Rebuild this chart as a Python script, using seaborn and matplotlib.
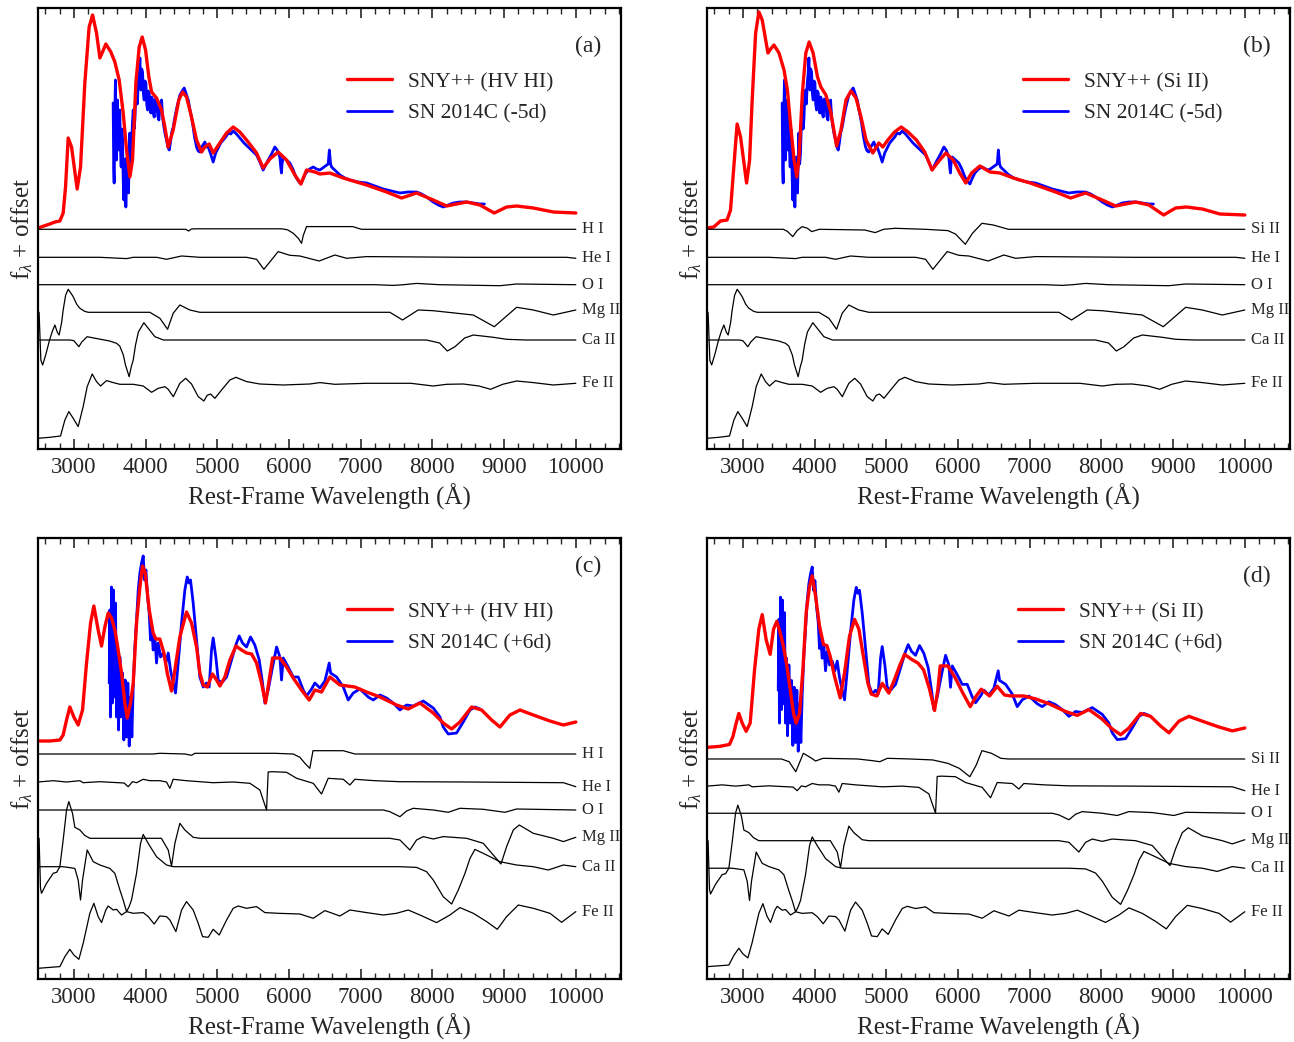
import numpy as np
import matplotlib
matplotlib.use("Agg")
import matplotlib.pyplot as plt
from matplotlib.ticker import MultipleLocator
import seaborn as sns

# ---------------------------------------------------------------------------
# Spectra: (rest wavelength [A], f_lambda + offset [arbitrary units])
# ---------------------------------------------------------------------------
obs_early = np.array([
    (3548, 3.46), (3556, 2.80), (3562, 2.66), (3570, 3.30), (3580, 3.69), (3588, 3.05),
    (3595, 2.89), (3602, 3.40), (3609, 3.49), (3616, 3.10), (3623, 2.99), (3632, 3.30),
    (3641, 3.39), (3650, 3.00), (3660, 2.82), (3670, 3.20), (3679, 3.09), (3688, 2.70),
    (3697, 2.49), (3704, 2.80), (3711, 2.62), (3718, 2.90), (3725, 2.42), (3734, 2.75),
    (3744, 2.92), (3753, 2.60), (3762, 2.56), (3772, 2.90), (3781, 3.16), (3792, 2.85),
    (3804, 2.96), (3816, 3.25), (3828, 3.39), (3840, 3.20), (3851, 3.29), (3862, 3.50),
    (3874, 3.59), (3886, 3.45), (3898, 3.66), (3910, 3.75), (3921, 3.91), (3928, 3.70),
    (3935, 3.59), (3946, 3.80), (3958, 3.77), (3970, 3.55), (3981, 3.49), (3993, 3.68),
    (4005, 3.66), (4016, 3.45), (4028, 3.39), (4040, 3.58), (4051, 3.56), (4062, 3.40),
    (4074, 3.36), (4086, 3.52), (4098, 3.49), (4110, 3.35), (4121, 3.32), (4137, 3.50),
    (4153, 3.49), (4170, 3.33), (4186, 3.29), (4204, 3.45), (4223, 3.49), (4240, 3.30),
    (4256, 3.22), (4275, 3.14), (4293, 3.09), (4312, 3.02), (4330, 2.99), (4346, 3.06),
    (4363, 3.16), (4386, 3.22), (4409, 3.32), (4444, 3.44), (4479, 3.54), (4510, 3.58),
    (4539, 3.61), (4567, 3.55), (4595, 3.49), (4625, 3.37), (4655, 3.26), (4683, 3.12),
    (4711, 3.02), (4734, 2.98), (4757, 2.97), (4792, 3.03), (4827, 3.07), (4850, 3.02),
    (4874, 3.02), (4908, 2.95), (4943, 2.87), (4978, 2.96), (5013, 3.01), (5048, 3.06),
    (5083, 3.09), (5118, 3.12), (5153, 3.16), (5188, 3.15), (5222, 3.18), (5268, 3.15),
    (5315, 3.11), (5373, 3.06), (5431, 3.02), (5490, 2.98), (5548, 2.94), (5594, 2.87),
    (5640, 2.79), (5675, 2.84), (5710, 2.89), (5757, 2.95), (5803, 3.02), (5835, 2.99),
    (5872, 2.92), (5888, 2.80), (5895, 2.76), (5903, 2.85), (5919, 2.92), (5965, 2.89),
    (6012, 2.86), (6054, 2.80), (6096, 2.72), (6131, 2.68), (6166, 2.65), (6201, 2.71),
    (6236, 2.76), (6287, 2.80), (6338, 2.82), (6385, 2.80), (6431, 2.79), (6490, 2.82),
    (6547, 2.85), (6563, 2.99), (6580, 2.85), (6594, 2.82), (6652, 2.78), (6710, 2.74),
    (6780, 2.71), (6849, 2.69), (6965, 2.67), (7082, 2.66), (7200, 2.63), (7315, 2.60),
    (7430, 2.58), (7547, 2.56), (7660, 2.57), (7780, 2.57), (7850, 2.55), (7919, 2.52),
    (8012, 2.47), (8082, 2.44), (8152, 2.42), (8221, 2.44), (8291, 2.46), (8384, 2.47),
    (8477, 2.47), (8570, 2.46), (8663, 2.45), (8725, 2.45),
])

obs_late = np.array([
    (3493, 2.96), (3502, 3.69), (3511, 2.62), (3525, 3.92), (3539, 2.76), (3553, 3.89),
    (3567, 2.82), (3581, 3.76), (3595, 2.62), (3609, 3.29), (3623, 2.49), (3642, 3.22),
    (3660, 2.62), (3679, 3.06), (3697, 2.39), (3716, 2.99), (3735, 2.42), (3753, 2.96),
    (3772, 2.33), (3790, 2.82), (3809, 2.42), (3828, 2.92), (3851, 3.32), (3874, 3.59),
    (3898, 3.89), (3921, 4.06), (3944, 4.16), (3967, 4.23), (3986, 3.99), (4005, 4.09),
    (4028, 3.82), (4051, 3.66), (4069, 3.39), (4088, 3.49), (4106, 3.29), (4130, 3.42),
    (4153, 3.16), (4176, 3.36), (4209, 3.22), (4246, 3.26), (4283, 3.16), (4316, 3.26),
    (4348, 3.09), (4385, 2.96), (4418, 2.86), (4455, 3.16), (4502, 3.56), (4548, 3.89),
    (4581, 4.02), (4604, 3.96), (4627, 3.99), (4664, 3.76), (4711, 3.39), (4757, 3.02),
    (4804, 2.92), (4850, 2.96), (4887, 2.92), (4920, 3.29), (4943, 3.41), (4980, 3.22),
    (5013, 2.99), (5060, 2.96), (5130, 3.02), (5199, 3.19), (5269, 3.36), (5306, 3.43),
    (5352, 3.36), (5408, 3.32), (5464, 3.42), (5524, 3.34), (5585, 3.19), (5631, 2.96),
    (5664, 2.76), (5710, 2.89), (5771, 3.12), (5827, 3.32), (5873, 3.22), (5896, 2.99),
    (5920, 3.21), (5989, 3.12), (6059, 3.02), (6129, 3.02), (6199, 2.89), (6245, 2.83),
    (6315, 2.90), (6361, 2.96), (6431, 2.91), (6501, 2.98), (6561, 3.16), (6580, 3.06),
    (6664, 3.02), (6757, 2.92), (6826, 2.79), (6896, 2.86), (6989, 2.90), (7105, 2.82),
    (7175, 2.79), (7268, 2.84), (7361, 2.81), (7454, 2.76), (7547, 2.69), (7640, 2.74),
    (7733, 2.73), (7872, 2.78), (8012, 2.71), (8105, 2.62), (8151, 2.52), (8221, 2.45),
    (8337, 2.46), (8430, 2.57), (8524, 2.69), (8593, 2.72), (8663, 2.70),
])

model_a = np.array([
    (2500, 2.21), (2665, 2.25), (2735, 2.27), (2805, 2.28), (2851, 2.36), (2884, 2.62),
    (2921, 3.11), (2968, 3.02), (3046, 2.60), (3093, 2.82), (3153, 3.66), (3213, 4.22),
    (3261, 4.34), (3316, 4.16), (3363, 3.91), (3400, 3.97), (3446, 4.05), (3516, 3.97),
    (3572, 3.87), (3632, 3.69), (3688, 3.36), (3735, 2.99), (3781, 2.72), (3818, 2.89),
    (3865, 3.66), (3911, 4.02), (3953, 4.12), (4000, 3.99), (4046, 3.72), (4084, 3.57),
    (4153, 3.51), (4223, 3.39), (4269, 3.22), (4315, 3.02), (4385, 3.19), (4464, 3.49),
    (4516, 3.57), (4571, 3.52), (4641, 3.32), (4711, 3.09), (4781, 2.97), (4827, 3.02),
    (4887, 3.05), (4943, 2.96), (5036, 3.06), (5130, 3.16), (5222, 3.22), (5315, 3.17),
    (5431, 3.07), (5548, 2.96), (5640, 2.81), (5734, 2.90), (5849, 2.97), (5966, 2.89),
    (6082, 2.74), (6166, 2.65), (6245, 2.79), (6361, 2.77), (6431, 2.75), (6570, 2.76),
    (6756, 2.71), (7082, 2.64), (7361, 2.57), (7570, 2.51), (7780, 2.56), (8012, 2.49),
    (8198, 2.43), (8477, 2.47), (8663, 2.44), (8863, 2.36), (9035, 2.42), (9175, 2.43),
    (9407, 2.41), (9686, 2.37), (10000, 2.36),
])

model_b = np.array([
    (2500, 2.21), (2594, 2.22), (2688, 2.28), (2780, 2.29), (2828, 2.39), (2874, 2.82),
    (2920, 3.25), (2968, 3.12), (3052, 2.66), (3094, 2.89), (3130, 3.49), (3178, 4.16),
    (3224, 4.37), (3270, 4.29), (3350, 3.96), (3388, 4.00), (3434, 4.04), (3504, 3.96),
    (3574, 3.79), (3621, 3.59), (3668, 3.22), (3714, 2.89), (3752, 2.72), (3784, 2.92),
    (3830, 3.56), (3878, 3.96), (3924, 4.07), (3980, 3.96), (4041, 3.72), (4088, 3.62),
    (4158, 3.54), (4228, 3.36), (4307, 3.03), (4368, 3.19), (4438, 3.49), (4508, 3.58),
    (4578, 3.51), (4648, 3.32), (4718, 3.09), (4812, 2.96), (4896, 3.06), (4952, 3.02),
    (5022, 3.09), (5115, 3.17), (5209, 3.22), (5303, 3.17), (5420, 3.09), (5536, 2.97),
    (5639, 2.79), (5723, 2.87), (5831, 2.96), (5934, 2.89), (6025, 2.76), (6109, 2.66),
    (6190, 2.76), (6305, 2.83), (6445, 2.77), (6585, 2.76), (6772, 2.71), (7006, 2.66),
    (7361, 2.57), (7570, 2.51), (7780, 2.56), (8012, 2.49), (8198, 2.43), (8477, 2.47),
    (8663, 2.44), (8868, 2.34), (9035, 2.41), (9183, 2.42), (9407, 2.40), (9652, 2.35),
    (10000, 2.34),
])

model_c = np.array([
    (2500, 2.38), (2665, 2.38), (2805, 2.39), (2851, 2.44), (2898, 2.59), (2944, 2.72),
    (3000, 2.62), (3060, 2.54), (3121, 2.69), (3177, 3.16), (3233, 3.56), (3279, 3.73),
    (3339, 3.49), (3386, 3.33), (3432, 3.52), (3479, 3.66), (3525, 3.61), (3572, 3.49),
    (3618, 3.29), (3665, 3.06), (3711, 2.76), (3744, 2.61), (3790, 2.76), (3828, 2.96),
    (3874, 3.56), (3921, 3.92), (3958, 4.13), (3995, 4.06), (4051, 3.69), (4106, 3.46),
    (4144, 3.40), (4199, 3.40), (4256, 3.26), (4302, 3.06), (4362, 2.88), (4409, 3.09),
    (4478, 3.42), (4571, 3.67), (4641, 3.56), (4711, 3.32), (4757, 3.06), (4804, 2.94),
    (4859, 2.92), (4934, 3.05), (4990, 2.99), (5036, 2.93), (5106, 3.02), (5176, 3.19),
    (5260, 3.33), (5338, 3.29), (5408, 3.26), (5478, 3.25), (5548, 3.16), (5617, 2.96),
    (5673, 2.76), (5724, 2.99), (5771, 3.21), (5873, 3.21), (5966, 3.12), (6059, 3.01),
    (6175, 2.89), (6282, 2.79), (6361, 2.89), (6454, 2.87), (6570, 3.02), (6710, 2.94),
    (6919, 2.92), (7082, 2.87), (7268, 2.82), (7500, 2.74), (7663, 2.70), (7826, 2.76),
    (8012, 2.66), (8151, 2.56), (8268, 2.50), (8384, 2.57), (8547, 2.72), (8686, 2.69),
    (8826, 2.59), (8942, 2.52), (9081, 2.64), (9221, 2.69), (9407, 2.64), (9639, 2.58),
    (9826, 2.54), (10000, 2.57),
])

model_d = np.array([
    (2500, 2.37), (2675, 2.38), (2814, 2.40), (2861, 2.48), (2907, 2.62), (2944, 2.72),
    (2991, 2.62), (3046, 2.535), (3102, 2.62), (3163, 3.17), (3223, 3.59), (3270, 3.74),
    (3325, 3.48), (3381, 3.33), (3428, 3.59), (3474, 3.67), (3521, 3.55), (3567, 3.41),
    (3614, 3.21), (3660, 2.97), (3707, 2.72), (3744, 2.62), (3790, 2.72), (3837, 3.17),
    (3883, 3.76), (3930, 4.03), (3967, 4.14), (4014, 3.93), (4069, 3.62), (4125, 3.43),
    (4172, 3.42), (4218, 3.31), (4279, 3.10), (4358, 2.88), (4418, 3.14), (4488, 3.52),
    (4558, 3.69), (4618, 3.59), (4674, 3.34), (4744, 3.03), (4790, 2.92), (4869, 2.90),
    (4944, 3.03), (5036, 2.93), (5115, 3.07), (5185, 3.21), (5255, 3.33), (5348, 3.28),
    (5441, 3.24), (5520, 3.17), (5604, 2.97), (5673, 2.75), (5720, 2.97), (5752, 3.21),
    (5859, 3.21), (5952, 3.10), (6068, 2.93), (6171, 2.79), (6255, 2.90), (6324, 2.97),
    (6440, 2.90), (6547, 3.00), (6649, 2.91), (6742, 2.90), (6919, 2.90), (7082, 2.87),
    (7268, 2.82), (7500, 2.74), (7663, 2.70), (7826, 2.76), (8012, 2.66), (8151, 2.56),
    (8268, 2.50), (8384, 2.57), (8547, 2.72), (8686, 2.69), (8826, 2.59), (8942, 2.52),
    (9081, 2.64), (9221, 2.69), (9407, 2.64), (9639, 2.58), (9826, 2.54), (10000, 2.57),
])

# ---------------------------------------------------------------------------
# Single-ion contributions: (rest wavelength [A], flux relative to continuum)
# ---------------------------------------------------------------------------
hi_early = np.array([
    (2500, 0), (4450, 0), (4560, 0), (4600, -0.017), (4640, 0.003), (4700, 0.005),
    (5900, 0.005), (5980, -0.005), (6060, -0.04), (6130, -0.09), (6175, -0.14),
    (6200, -0.06), (6245, 0.027), (6890, 0.027), (7010, 0), (10000, 0),
])
sii_early = np.array([
    (2500, 0), (3564, 0), (3620, -0.02), (3696, -0.073), (3760, -0.01), (3828, 0.027),
    (3900, 0.01), (3960, -0.023), (4066, 0), (4699, -0.007), (4846, -0.033), (4962, 0),
    (5121, 0.01), (5543, 0), (5859, -0.013), (5965, -0.047), (6102, -0.15), (6202, -0.04),
    (6334, 0.06), (6492, 0.043), (6703, 0), (10000, 0),
])
hei_early = np.array([
    (2500, 0), (3363, 0), (3735, -0.013), (3828, 0), (4153, 0), (4293, -0.02),
    (4502, 0.013), (4757, 0), (5408, 0), (5548, -0.02), (5650, -0.12), (5849, 0.057),
    (6012, 0.02), (6152, 0.013), (6421, -0.037), (6640, 0.023), (6803, -0.01),
    (7082, 0.007), (8477, 0), (9872, 0), (10000, -0.01),
])
oi_early = np.array([
    (2500, 0), (7200, 0), (7453, -0.007), (7600, 0), (7780, 0.013), (8100, 0),
    (8941, -0.01), (9174, 0.007), (10000, 0),
])
mgii_early = np.array([
    (2500, 0), (2515, 0), (2540, -0.48), (2565, -0.527), (2610, -0.42), (2660, -0.28),
    (2700, -0.19), (2735, -0.127), (2770, -0.20), (2795, -0.227), (2830, -0.10),
    (2851, 0.023), (2885, 0.17), (2921, 0.23), (2960, 0.19), (2991, 0.156), (3040, 0.08),
    (3084, 0.04), (3150, 0.01), (3200, 0), (4060, 0), (4200, -0.06), (4307, -0.17),
    (4385, -0.01), (4478, 0.073), (4618, 0.023), (4757, 0), (7407, 0), (7583, -0.077),
    (7801, 0.023), (8011, 0.016), (8569, -0.027), (8863, -0.144), (9175, 0.05),
    (9407, 0.023), (9686, -0.027), (10000, 0.023),
])
caii_early = np.array([
    (2500, 0), (2950, 0), (3000, -0.007), (3070, -0.067), (3110, -0.02), (3185, 0.033),
    (3300, 0.017), (3500, -0.01), (3595, -0.033), (3640, -0.06), (3690, -0.15),
    (3720, -0.25), (3771, -0.367), (3800, -0.27), (3828, -0.2), (3860, -0.05),
    (3900, 0.08), (3976, 0.173), (4037, 0.117), (4130, 0.033), (4250, 0), (7917, 0),
    (8100, -0.03), (8208, -0.11), (8315, -0.067), (8450, 0.02), (8571, 0.05),
    (8850, 0.027), (9035, 0.007), (9300, 0), (10000, 0),
])
feii_early = np.array([
    (2500, -0.55), (2665, -0.54), (2814, -0.527), (2875, -0.367), (2930, -0.283),
    (2991, -0.35), (3060, -0.433), (3130, -0.233), (3186, -0.033), (3256, 0.093),
    (3316, 0.017), (3372, -0.027), (3456, 0.027), (3549, 0.007), (3642, -0.01),
    (3828, -0.01), (3967, -0.027), (4084, -0.09), (4177, -0.05), (4270, -0.034),
    (4316, -0.06), (4387, -0.134), (4478, 0), (4560, 0.05), (4641, -0.007),
    (4734, -0.133), (4813, -0.177), (4860, -0.12), (4906, -0.107), (4967, -0.15),
    (5060, -0.067), (5176, 0.033), (5260, 0.06), (5408, 0.017), (5594, -0.007),
    (5920, -0.017), (6292, -0.007), (6431, 0.007), (6640, -0.01), (7082, 0), (7700, 0),
    (8011, -0.027), (8200, -0.01), (8430, -0.007), (8650, -0.027), (8812, -0.06),
    (8980, -0.01), (9174, 0.023), (9407, 0.007), (9686, -0.017), (10000, 0),
])

hi_late = np.array([
    (2500, 0), (4100, 0), (4199, 0.007), (4550, 0), (4641, -0.013), (4688, 0.007),
    (5800, 0.007), (6059, 0), (6152, -0.033), (6222, -0.093), (6290, -0.143),
    (6335, 0.033), (6757, 0.033), (6919, 0), (10000, 0),
])
sii_late = np.array([
    (2500, 0), (3538, 0), (3644, -0.028), (3738, -0.131), (3844, 0.059), (3960, 0.007),
    (4013, -0.021), (4118, 0.007), (4600, 0), (4804, -0.017), (4910, -0.028),
    (5015, 0.007), (5332, 0), (5648, -0.01), (5859, -0.045), (6017, -0.096),
    (6165, -0.183), (6255, -0.062), (6334, 0.086), (6466, 0.059), (6598, 0.007),
    (6703, 0), (10000, 0),
])
hei_late = np.array([
    (2500, 0), (2712, 0.013), (2898, 0), (3084, 0.013), (3130, -0.007), (3363, 0.003),
    (3700, -0.01), (3758, -0.047), (3818, 0.003), (3874, -0.007), (3967, 0.027),
    (4060, 0.013), (4200, 0.013), (4292, 0), (4339, -0.063), (4385, 0.027),
    (4571, 0.013), (4757, 0.003), (4943, -0.007), (5222, 0), (5455, -0.013),
    (5594, -0.08), (5687, -0.28), (5710, 0.10), (5771, 0.103), (5966, 0.097),
    (6106, 0.037), (6338, -0.013), (6454, -0.12), (6547, 0.037), (6757, 0.027),
    (6849, -0.03), (6919, 0.027), (7200, 0.013), (7547, 0.003), (8477, 0),
    (9826, -0.007), (10000, -0.047),
])
oi_late = np.array([
    (2500, 0), (7314, 0), (7407, -0.017), (7547, -0.067), (7640, -0.01), (7733, 0.017),
    (8012, 0), (8221, -0.023), (8384, 0.017), (8709, 0.007), (9011, -0.023),
    (9174, 0.01), (10000, 0),
])
mgii_late = np.array([
    (2500, 0), (2515, 0), (2535, -0.50), (2549, -0.55), (2619, -0.45), (2712, -0.35),
    (2760, -0.34), (2805, -0.283), (2851, -0.017), (2898, 0.283), (2930, 0.367),
    (2981, 0.25), (3014, 0.11), (3084, 0.083), (3150, 0.03), (3223, 0), (4220, 0),
    (4316, -0.117), (4362, -0.277), (4409, -0.05), (4478, 0.15), (4548, 0.083),
    (4664, 0.01), (4757, 0), (7407, 0), (7547, -0.017), (7686, -0.117), (7779, -0.017),
    (7872, 0.017), (8012, -0.007), (8151, 0.017), (8477, 0), (8709, -0.05),
    (8849, -0.167), (8956, -0.257), (9035, -0.083), (9128, 0.083), (9211, 0.133),
    (9407, 0.05), (9686, 0), (9826, -0.033), (10000, 0.01),
])
caii_late = np.array([
    (2500, 0), (2851, 0), (3014, -0.017), (3060, -0.133), (3093, -0.333), (3121, -0.133),
    (3186, 0.167), (3270, 0.05), (3363, 0.017), (3502, -0.017), (3572, -0.067),
    (3642, -0.233), (3688, -0.333), (3735, -0.45), (3770, -0.40), (3804, -0.333),
    (3874, -0.067), (3930, 0.233), (3967, 0.323), (4037, 0.233), (4153, 0.10),
    (4292, 0.017), (4385, 0), (7547, 0), (7779, -0.007), (7919, -0.05), (8012, -0.133),
    (8151, -0.30), (8268, -0.373), (8361, -0.233), (8454, -0.067), (8524, 0.083),
    (8593, 0.173), (8756, 0.117), (8942, 0.05), (9174, 0.017), (9407, 0),
    (9616, -0.033), (9826, 0.017), (10000, 0),
])
feii_late = np.array([
    (2500, -0.55), (2805, -0.533), (2875, -0.433), (2944, -0.36), (3000, -0.417),
    (3070, -0.46), (3130, -0.30), (3223, 0), (3279, 0.10), (3339, -0.033),
    (3386, -0.093), (3446, 0.033), (3479, 0.073), (3549, 0.033), (3595, 0.04),
    (3665, -0.017), (3735, 0.017), (3828, 0), (3967, 0.007), (4037, -0.033),
    (4120, -0.107), (4199, -0.027), (4292, -0.033), (4339, -0.067), (4423, -0.183),
    (4502, 0.033), (4571, 0.117), (4664, 0.033), (4734, -0.10), (4795, -0.233),
    (4874, -0.24), (4943, -0.16), (5027, -0.217), (5130, -0.067), (5222, 0.05),
    (5292, 0.073), (5408, 0.05), (5548, 0.067), (5664, 0.007), (5850, 0),
    (6152, -0.007), (6338, -0.05), (6501, 0.027), (6710, -0.027), (6849, 0.033),
    (7082, 0.007), (7314, -0.017), (7500, 0), (7663, 0.033), (7826, -0.017),
    (8058, -0.093), (8244, -0.017), (8384, 0.057), (8570, 0), (8756, -0.083),
    (8905, -0.16), (9035, -0.033), (9198, 0.083), (9407, 0.05), (9639, 0),
    (9802, -0.09), (10000, 0.017),
])

# vertical offsets of the ion spectra (top to bottom)
offsets_early = [2.197, 1.917, 1.643, 1.367, 1.090, 0.657]
offsets_late = [2.250, 1.970, 1.690, 1.407, 1.123, 0.657]

model_labels = ["SNY++ (HV HI)", "SNY++ (Si II)", "SNY++ (HV HI)", "SNY++ (Si II)"]
obs_labels = ["SN 2014C (-5d)", "SN 2014C (-5d)", "SN 2014C (+6d)", "SN 2014C (+6d)"]
panel_tags = ["(a)", "(b)", "(c)", "(d)"]
ion_names_hi = ["H I", "He I", "O I", "Mg II", "Ca II", "Fe II"]
ion_names_si = ["Si II", "He I", "O I", "Mg II", "Ca II", "Fe II"]

# ---------------------------------------------------------------------------
sns.set_style("ticks")
plt.rcParams["font.family"] = ["Liberation Serif", "DejaVu Serif"]
plt.rcParams["mathtext.fontset"] = "custom"
plt.rcParams["mathtext.rm"] = "Liberation Serif"
plt.rcParams["mathtext.it"] = "Liberation Serif:italic"

W, H = 1294, 1042
fig = plt.figure(figsize=(W / 100, H / 100), dpi=100)


def rect(left_px, bottom_px):
    return [left_px / W, (H - bottom_px) / H, 583 / W, 441 / H]


panels = [
    dict(rect=rect(38, 449), model=model_a, obs=obs_early,
         ions=[hi_early, hei_early, oi_early, mgii_early, caii_early, feii_early],
         names=ion_names_hi, offsets=offsets_early, ylim=(0, 4.41),
         leg_x=0.530, tag_y=0.912),
    dict(rect=rect(707, 449), model=model_b, obs=obs_early,
         ions=[sii_early, hei_early, oi_early, mgii_early, caii_early, feii_early],
         names=ion_names_si, offsets=offsets_early, ylim=(0, 4.41),
         leg_x=0.542, tag_y=0.912),
    dict(rect=rect(38, 979), model=model_c, obs=obs_late,
         ions=[hi_late, hei_late, oi_late, mgii_late, caii_late, feii_late],
         names=ion_names_hi, offsets=offsets_late, ylim=(0, 4.41),
         leg_x=0.530, tag_y=0.935),
    dict(rect=rect(707, 979), model=model_d, obs=obs_late,
         ions=[sii_late, hei_late, oi_late, mgii_late, caii_late, feii_late],
         names=ion_names_si, offsets=offsets_late, ylim=(-0.02, 4.53),
         leg_x=0.533, tag_y=0.912),
]

for i, p in enumerate(panels):
    ax = fig.add_axes(p["rect"])
    sns.lineplot(x=p["obs"][:, 0], y=p["obs"][:, 1], ax=ax, color="#0000ff",
                 lw=2.0, estimator=None, sort=False, label=obs_labels[i])
    sns.lineplot(x=p["model"][:, 0], y=p["model"][:, 1], ax=ax, color="#ff0000",
                 lw=2.4, estimator=None, sort=False, label=model_labels[i])
    for spec, name, off in zip(p["ions"], p["names"], p["offsets"]):
        yy = spec[:, 1] + off
        sns.lineplot(x=spec[:, 0], y=yy, ax=ax, color="black", lw=0.9,
                     estimator=None, sort=False, legend=False)
        ax.text(10085, yy[-1], name, fontsize=12, va="center", ha="left",
                clip_on=False)

    ax.set_xlim(2500, 10630)
    ax.set_ylim(*p["ylim"])
    ax.xaxis.set_major_locator(MultipleLocator(1000))
    ax.xaxis.set_minor_locator(MultipleLocator(200))
    ax.set_xticks(np.arange(3000, 10001, 1000))
    ax.set_yticks([])
    ax.tick_params(axis="x", which="both", direction="in", top=True, bottom=True,
                   labelsize=16.5, pad=6)
    ax.tick_params(axis="x", which="major", length=7, width=1.2)
    ax.tick_params(axis="x", which="minor", length=4, width=1.0)
    for s in ax.spines.values():
        s.set_linewidth(1.6)
        s.set_color("black")

    ax.set_xlabel("Rest-Frame Wavelength (Å)", fontsize=18, labelpad=4)
    ax.set_ylabel(r"f$_\lambda$ + offset", fontsize=18, labelpad=2)

    handles, labels = ax.get_legend_handles_labels()
    ax.legend(handles[::-1], labels[::-1], loc="upper left",
              bbox_to_anchor=(p["leg_x"], 0.855), frameon=False, fontsize=15.5,
              borderpad=0, borderaxespad=0, handlelength=2.1, handletextpad=0.75,
              labelspacing=0.55)
    ax.text(0.943, p["tag_y"], panel_tags[i], transform=ax.transAxes,
            fontsize=17, ha="center", va="center")

fig.savefig("out.png", dpi=100)
